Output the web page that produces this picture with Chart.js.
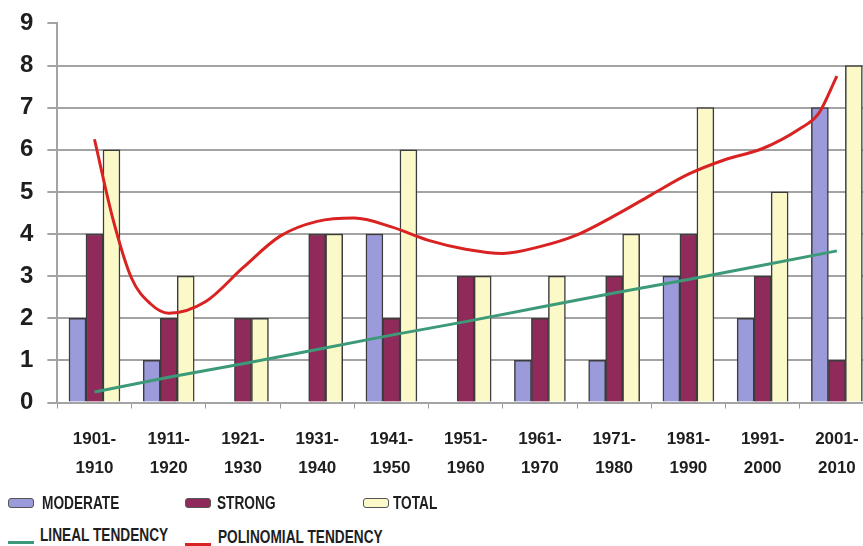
<!DOCTYPE html>
<html>
<head>
<meta charset="utf-8">
<script src="https://cdn.jsdelivr.net/npm/chart.js@4.4.1/dist/chart.umd.min.js"></script>
<style>
body { margin:0; background:#fff; overflow:hidden; }
#wrap { position:relative; width:863px; height:546px; overflow:hidden; background:#fff; }
#decades { position:absolute; left:0; top:-5px; }
.key { position:absolute; font-family:'Liberation Sans', Arial, sans-serif; font-weight:bold; font-size:18px;
       color:#1e1e1e; white-space:nowrap; transform:scaleX(0.76); transform-origin:left center; line-height:20px; }
.sw { position:absolute; box-sizing:border-box; }
</style>
</head>
<body>
<div id="wrap">
  <canvas id="decades" width="890" height="510"></canvas>
  <div id="legend"></div>
</div>
<script>
const decades = [['1901-','1910'],['1911-','1920'],['1921-','1930'],['1931-','1940'],['1941-','1950'],
                 ['1951-','1960'],['1961-','1970'],['1971-','1980'],['1981-','1990'],['1991-','2000'],['2001-','2010']];
const moderate = [2, 1, 0, 0, 4, 0, 1, 1, 3, 2, 7];
const strong   = [4, 2, 2, 4, 2, 3, 2, 3, 4, 3, 1];
const total    = [6, 3, 2, 4, 6, 3, 3, 4, 7, 5, 8];
const lineal   = [0.25, 0.6, 0.92, 1.26, 1.6, 1.92, 2.26, 2.6, 2.92, 3.26, 3.6];
// polynomial trend, position given in decade index units
const polyAt   = [0, 0.25, 0.5, 0.75, 1, 1.5, 2, 2.5, 3, 3.5, 4, 4.5, 5, 5.5, 6, 6.5, 7, 7.5, 8, 8.5, 9, 9.5, 9.75, 10];
const polyVal  = [6.25, 4.35, 2.95, 2.35, 2.12, 2.4, 3.2, 3.95, 4.3, 4.38, 4.17, 3.85, 3.64, 3.54, 3.7, 3.98,
                  4.43, 4.93, 5.42, 5.77, 6.03, 6.5, 6.85, 7.75];
const yTicks   = [0, 1, 2, 3, 4, 5, 6, 7, 8, 9];

const ctx = document.getElementById('decades').getContext('2d');
const edge = '#3c3c3c';
const atDecade = arr => arr.map((v, i) => ({ x: i, y: v }));

const chart = new Chart(ctx, {
    type: 'bar',
    data: {
        datasets: [
            { label: 'MODERATE', data: atDecade(moderate), backgroundColor: '#9b9bdc', borderColor: edge, borderWidth: 1.5, order: 3 },
            { label: 'STRONG', data: atDecade(strong), backgroundColor: '#8f2a5b', borderColor: edge, borderWidth: 1.5, order: 3 },
            { label: 'TOTAL', data: atDecade(total), backgroundColor: '#fcf9c9', borderColor: edge, borderWidth: 1.5, order: 3 },
            { type: 'line', label: 'LINEAL TENDENCY', data: atDecade(lineal), borderColor: '#3d9a78', backgroundColor: '#3d9a78',
              borderWidth: 3, pointRadius: 0, tension: 0, order: 2 },
            { type: 'line', label: 'POLINOMIAL TENDENCY',
              data: polyAt.map((x, i) => ({ x: x, y: polyVal[i] })),
              borderColor: '#d92222', backgroundColor: '#d92222', borderWidth: 3, pointRadius: 0,
              cubicInterpolationMode: 'monotone', order: 1 }
        ]
    },
    options: {
        responsive: false,
        animation: false,
        layout: { padding: { left: 6, top: 2, right: 0, bottom: 6 } },
        datasets: { bar: { barThickness: 17 } },
        plugins: { legend: { display: false }, tooltip: { enabled: false } },
        scales: {
            x: {
                type: 'linear', min: -0.5, max: 10.5, offset: false,
                afterBuildTicks: s => {
                    const t = [];
                    decades.forEach((d, i) => { t.push({ value: i - 0.5 }, { value: i }); });
                    t.push({ value: decades.length - 0.5 });
                    s.ticks = t;
                },
                grid: { drawOnChartArea: false, drawTicks: true, tickLength: 6, offset: false,
                        tickColor: c => (c.tick && Number.isInteger(c.tick.value)) ? 'rgba(0,0,0,0)' : '#999' },
                border: { color: '#a3a3a3', width: 2 },
                ticks: { color: '#1e1e1e', padding: 16, maxRotation: 0, autoSkip: false,
                         callback: v => Number.isInteger(v) ? decades[v] : '',
                         font: { family: 'Liberation Sans', size: 17, weight: 'bold', lineHeight: 1.72 } }
            },
            y: {
                min: 0, max: 9,
                afterBuildTicks: s => { s.ticks = yTicks.map(v => ({ value: v })); },
                grid: { color: c => (c.tick && c.tick.value === 9) ? 'rgba(0,0,0,0)' : '#a3a3a3',
                        tickColor: '#a3a3a3', lineWidth: 2, tickLength: 10 },
                border: { color: '#a3a3a3', width: 2 },
                ticks: { color: '#1e1e1e', padding: 14,
                         font: { family: 'Liberation Sans', size: 24, weight: 'bold' } }
            }
        }
    }
});

// legend laid out like the original sheet: three bar keys, then two line keys
const keySpots = [[8, 42, 503, 'box'], [185, 217, 503, 'box'], [363, 393, 503, 'box'],
                  [8, 40, 535, 'line'], [185, 218, 537, 'line']];
const legend = document.getElementById('legend');
chart.data.datasets.forEach((ds, i) => {
    const [sx, tx, ty, kind] = keySpots[i];
    const sw = document.createElement('div');
    sw.className = 'sw';
    if (kind === 'box') {
        sw.style.cssText = `left:${sx}px;top:${ty - 5}px;width:26px;height:10px;background:${ds.backgroundColor};` +
                           `border:1.5px solid #555;border-radius:3px;`;
    } else {
        sw.style.cssText = `left:${sx}px;top:${ty + 6}px;width:26px;height:3px;background:${ds.borderColor};`;
    }
    legend.appendChild(sw);
    const t = document.createElement('span');
    t.className = 'key';
    t.textContent = ds.label;
    t.style.left = tx + 'px';
    t.style.top = (ty - 10) + 'px';
    legend.appendChild(t);
});
</script>
</body>
</html>
